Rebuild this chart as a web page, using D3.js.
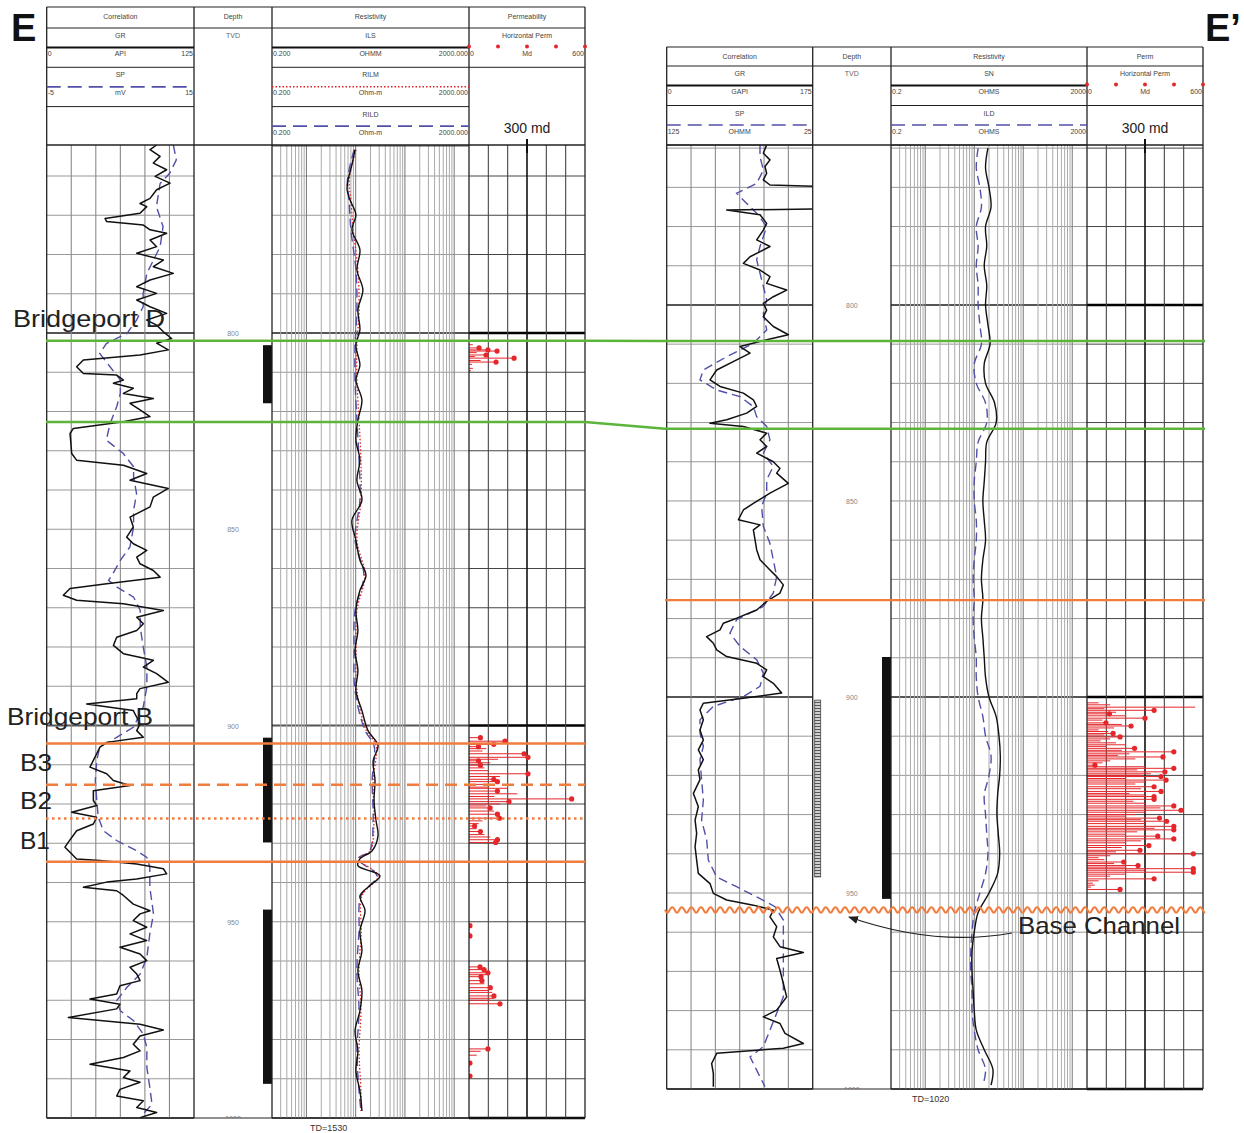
<!DOCTYPE html>
<html>
<head>
<meta charset="utf-8">
<script src="https://cdn.jsdelivr.net/npm/d3@7"></script>
<style>
body { margin: 0; background: #fff; }
text { font-family: "Liberation Sans", Arial, sans-serif; }
</style>
</head>
<body>
<script>
// ---- well E (left) : [depth, value]
const leftGR = [[752.1,93.3],[753.3,87.7],[755.0,96.2],[756.7,90.5],[758.4,101.8],[760.1,92],[761.8,104.7],[763.5,93.3],[765.7,87.7],[767.0,79.2],[767.8,84.9],[769.5,79.2],[770.8,49.5],[771.6,50.9],[772.5,82],[773.7,87.7],[774.6,101.8],[776.3,87.7],[778.0,93.3],[779.7,76.4],[781.4,99],[783.1,90.5],[784.8,107.5],[786.5,87.7],[788.2,76.4],[789.9,93.3],[791.6,76.4],[793.3,87.7],[795.0,101.8],[796.7,84.9],[798.0,93.3],[799.7,99],[801.4,106],[802.6,93.3],[804.3,103.2],[805.6,79.2],[806.9,31.1],[808.6,25.4],[810.3,31.1],[810.7,59.4],[812.0,65.1],[812.8,56.6],[814.1,73.5],[815.4,65.1],[816.7,90.5],[817.9,70.7],[819.6,79.2],[821.3,87.7],[822.6,65.1],[824.3,22.6],[825.6,19.8],[828.0,20.5],[830.7,21.2],[832.4,25.4],[833.7,65.1],[835.8,84.9],[837.5,70.7],[839.6,103.2],[841.8,90.5],[844.3,87.7],[846.9,70.7],[849.4,73.5],[852.0,67.9],[853.7,73.5],[855.4,84.9],[857.1,76.4],[858.8,79.2],[860.5,90.5],[862.2,96.2],[863.9,50.9],[865.1,19.8],[866.8,14.1],[868.1,25.4],[869.0,65.1],[870.7,99],[872.4,76.4],[874.1,82],[875.8,76.4],[877.5,59.4],[879.6,56.6],[881.7,65.1],[883.4,90.5],[885.1,82],[886.8,93.3],[889.0,103.2],[890.6,79.2],[891.9,76.4],[893.2,76.4],[894.5,33.9],[896.2,73.5],[897.9,76.4],[899.6,79.2],[901.3,76.4],[903.0,82],[904.3,50.9],[905.5,45.2],[907.2,42.4],[908.9,39.6],[910.6,36.7],[912.3,50.9],[914.0,56.6],[915.3,70.7],[916.6,39.6],[919.1,39.6],[920.4,42.4],[922.1,21.2],[923.4,42.4],[925.1,39.6],[926.8,25.4],[929.7,18.4],[931.0,15.5],[932.3,19.8],[934.0,25.4],[934.4,45.2],[935.3,76.4],[936.5,99],[937.8,101.8],[939.1,76.4],[939.9,50.9],[941.2,31.1],[942.1,59.4],[943.3,65.1],[945.5,73.5],[947.2,87.7],[948.0,79.2],[949.7,73.5],[951.4,84.9],[953.1,70.7],[954.8,84.9],[956.5,62.2],[958.2,79.2],[959.9,84.9],[961.6,70.7],[963.3,76.4],[965.0,79.2],[966.3,62.2],[968.4,59.4],[969.7,36.7],[971.0,62.2],[972.2,59.4],[974.4,18.4],[976.1,79.2],[977.6,99],[979.1,79.2],[981.2,73.5],[982.9,79.2],[984.6,65.1],[986.3,36.7],[988.0,70.7],[989.7,65.1],[990.9,79.2],[992.7,62.2],[994.4,59.4],[995.6,82],[997.3,76.4],[998.6,93.3],[999.9,79.2]];
const leftSP = [[752.1,12.2],[755.9,12.6],[759.3,11.7],[761.9,10.4],[767.8,9.9],[772.9,10.8],[778.0,10.4],[784.8,8.6],[789.9,8.1],[793.3,8.1],[796.7,7.2],[800.1,5.9],[802.7,3.1],[805.2,2.2],[808.6,3.6],[812.0,5.0],[815.4,5.0],[818.8,4.5],[823.1,3.6],[827.3,3.1],[830.7,5.4],[834.1,6.8],[836.7,6.8],[840.9,7.2],[845.2,6.8],[849.4,6.8],[854.5,6.3],[857.9,5.0],[861.3,4.0],[863.0,3.4],[864.7,4.5],[867.3,6.8],[870.7,7.7],[874.9,7.7],[880.0,8.1],[885.1,8.6],[890.2,8.6],[895.3,8.1],[900.4,6.8],[903.0,4.5],[905.5,2.2],[908.9,1.8],[914.0,1.6],[919.1,1.8],[923.4,2.0],[926.8,2.7],[929.3,4.5],[931.9,7.2],[933.6,8.6],[936.1,9.0],[941.2,9.0],[948.0,9.5],[953.1,9.0],[959.1,8.6],[963.3,7.7],[966.7,5.9],[970.1,4.5],[972.7,5.0],[975.2,6.8],[978.6,8.1],[982.0,8.6],[987.1,8.6],[992.2,9.0],[996.5,9.3],[999.0,8.1]];
const leftILS = [[753.3,9.7],[757.1,8.4],[761.0,7.0],[763.5,6.7],[766.0,7.6],[769.9,10.1],[773.7,8.4],[778.8,12.2],[783.9,10.6],[789.0,14],[794.1,11.1],[799.2,12.2],[803.1,10.1],[808.2,12.2],[812.0,10.1],[817.1,13.4],[822.2,11.1],[827.3,10.1],[832.4,12.2],[837.5,10.6],[842.6,13.4],[847.7,8.4],[852.8,10.1],[857.9,12.2],[861.7,16.2],[865.6,12.2],[870.7,10.1],[875.8,11.1],[880.9,9.7],[886.0,11.1],[891.1,10.1],[896.2,13.4],[901.3,17.8],[905.1,28.4],[909.0,22.6],[914.0,24.7],[919.1,23.6],[924.2,25.9],[928.1,28.4],[931.9,21.6],[934.0,12.2],[935.7,11.1],[938.3,31.2],[940.8,19.3],[943.4,12.2],[947.2,15.5],[952.3,12.2],[957.4,13.4],[962.5,11.1],[967.6,13.4],[972.7,12.2],[977.8,9.7],[982.9,11.1],[988.0,10.1],[993.1,12.2],[998.2,13.4]];
const leftRILM = [[753.3,10.2],[761.0,7.4],[766.0,8.0],[773.7,8.9],[783.9,11.1],[794.1,11.7],[803.1,10.6],[812.0,10.6],[822.2,11.7],[832.4,12.8],[842.6,12.8],[852.8,10.6],[861.7,15.4],[870.7,10.6],[880.9,10.2],[891.1,10.6],[901.3,16.5],[905.1,25.9],[914.0,22.6],[924.2,23.6],[931.9,19.8],[934.0,11.7],[938.3,28.4],[943.4,13.4],[952.3,13.0],[962.5,11.7],[972.7,12.8],[982.9,11.7],[993.1,12.8],[998.2,12.8]];
const leftRILD = [[753.3,9.3],[761.0,6.8],[766.0,7.3],[773.7,8.0],[783.9,10.1],[794.1,10.6],[803.1,9.7],[812.0,9.7],[822.2,10.6],[832.4,11.7],[842.6,12.2],[852.8,9.7],[861.7,14.7],[870.7,9.7],[880.9,9.3],[891.1,9.7],[901.3,15.5],[905.1,23.6],[914.0,21.6],[924.2,22.6],[931.9,19.3],[934.0,11.1],[938.3,26.9],[943.4,12.8],[952.3,11.7],[962.5,10.6],[972.7,11.7],[982.9,10.6],[993.1,11.7],[998.2,12.8]];
const leftPermDots = [[803.8,52],[804.3,98],[804.6,145],[805.6,88],[806.4,233],[807.4,140],[903.1,59],[904.0,186],[904.8,128],[905.4,49],[907.2,285],[908.1,305],[909.0,49],[910.1,59],[912.3,305],[913.7,128],[914.3,147],[916.7,147],[918.7,531],[919.4,207],[921.0,109],[922.6,147],[923.6,157],[925.6,29],[927.0,59],[929.1,147],[929.8,138],[951.0,5],[953.6,5],[961.5,57],[962.2,78],[963.0,98],[964.0,62],[965.0,67],[966.8,110],[968.9,129],[970.9,160],[982.4,98],[986.0,5],[989.3,5]];
const leftPermStems = [[803.0,20],[805.0,40],[806.0,30],[807.0,60],[808.0,15],[809.0,20],[809.6,10],[905.9,90],[906.5,70],[908.6,150],[909.5,110],[910.8,80],[911.5,100],[913.0,160],[915.0,120],[915.7,100],[916.0,200],[917.4,250],[918.1,130],[920.0,160],[920.5,90],[921.8,130],[924.3,70],[925.0,50],[926.3,40],[927.8,80],[928.4,110],[952.0,5],[952.8,5],[963.5,90],[965.8,80],[967.5,100],[968.0,120],[969.5,130],[970.0,110],[983.0,60],[984.0,40],[987.0,5],[988.0,5]];
const leftCoreBars = [[803.1,817.9],[903.1,929.8],[946.9,991.3]];

// ---- well E' (right)
const rightGR = [[759.2,119.8],[761.3,115.8],[763.0,123.8],[764.7,117.8],[766.4,119.8],[768.1,115.8],[769.4,123.8],[769.8,185],[775.5,185],[775.8,71.9],[777.0,111.9],[779.2,119.8],[780.9,115.8],[783.4,107.9],[785.1,123.8],[787.7,99.9],[789.4,91.9],[791.1,111.9],[792.8,123.8],[794.5,119.8],[796.2,143.8],[797.9,127.8],[799.6,115.8],[801.3,119.8],[803.0,115.8],[805.5,127.8],[807.6,145.8],[808.9,119.8],[810.6,87.9],[812.3,99.9],[814.0,83.9],[816.6,59.9],[819.1,51.9],[820.8,63.9],[822.5,91.9],[824.2,103.9],[825.9,107.9],[827.6,95.9],[829.3,71.9],[830.2,51.9],[831.0,91.9],[832.7,119.8],[834.4,111.9],[836.1,119.8],[837.8,107.9],[840.0,127.8],[841.7,135.8],[842.9,131.8],[845.5,145.8],[848.0,123.8],[850.6,103.9],[852.3,91.9],[854.8,85.9],[856.1,111.9],[857.4,103.9],[859.9,105.9],[862.5,107.9],[865.0,111.9],[867.6,123.8],[869.3,131.8],[871.4,139.8],[873.5,135.8],[875.6,119.8],[877.8,107.9],[879.9,83.9],[881.2,67.9],[882.9,63.9],[884.6,47.9],[886.3,55.9],[888.0,59.9],[889.7,71.9],[891.4,107.9],[893.1,119.8],[894.8,115.8],[896.5,127.8],[899.0,137.8],[900.3,91.9],[901.6,43.9],[903.3,39.9],[905.8,43.9],[908.4,39.9],[911.0,43.9],[913.5,37.9],[916.0,43.9],[918.6,37.9],[921.1,39.9],[924.6,32],[928.0,37.9],[931.4,34],[934.8,35.9],[938.2,34],[941.6,35.9],[945.0,37.9],[947.6,51.9],[950.1,55.9],[951.8,71.9],[953.1,103.9],[954.4,127.8],[956.1,123.8],[958.6,131.8],[961.2,127.8],[963.7,135.8],[965.2,163.8],[966.7,131.8],[969.7,135.8],[973.1,139.8],[976.5,143.8],[979.9,131.8],[981.6,115.8],[983.3,135.8],[985.8,141.8],[988.4,163.8],[989.6,139.8],[990.9,59.9],[993.5,53.9],[996.0,55.9],[999.4,55.9]];
const rightSP = [[759.2,61.1],[762.2,61.1],[765.6,58.8],[769.0,63.4],[771.5,77.1],[774.1,70.2],[776.6,63.4],[780.0,56.5],[785.1,61.1],[788.5,63.4],[791.9,61.1],[795.3,58.8],[798.7,56.5],[802.1,58.8],[806.4,56.5],[809.8,65.7],[813.2,83.9],[816.6,99.9],[819.1,102.2],[821.7,90.8],[823.4,74.8],[825.9,65.7],[828.5,63.4],[831.0,56.5],[834.4,54.3],[837.8,58.8],[841.2,52.0],[844.6,56.5],[848.0,56.5],[851.4,60.0],[856.5,58.8],[860.8,54.3],[865.0,52.0],[869.3,49.7],[873.5,52.0],[876.9,58.8],[880.3,77.1],[883.7,81.7],[887.1,74.8],[890.5,63.4],[893.9,58.8],[897.3,61.1],[899.9,72.5],[902.4,93.1],[905.8,102.2],[909.2,102.2],[912.6,99.9],[916.0,102.2],[921.1,101.1],[926.3,99.9],[931.4,101.1],[936.5,97.6],[941.6,96.5],[945.9,90.8],[948.4,77.1],[951.0,63.4],[953.5,50.8],[956.9,45.1],[962.0,45.1],[967.1,45.1],[972.2,45.1],[976.5,45.1],[980.7,49.7],[985.0,54.3],[989.2,58.8],[991.8,67.9],[995.2,63.4],[999.4,57.7]];
const rightSN = [[760,19],[765,17],[770,20],[775,22],[780,17],[785,18],[790,16],[795,18],[800,17],[805,19],[810,21],[815,16],[820,17],[825,26],[830,28],[835,18],[840,17],[845,16],[850,15],[855,16],[860,17],[865,15],[870,14],[875,15],[880,14],[885,15],[890,16],[895,17],[900,20],[905,28],[910,32],[915,34],[920,33],[925,30],[930,29],[935,31],[940,33],[945,30],[950,20],[955,12],[960,10],[965,9],[970,9],[975,9.5],[980,10],[985,11],[990,16],[995,24],[999,22]];
const rightILD = [[760,12],[765,11],[770,13],[775,14],[780,11],[785,12],[790,11],[795,12],[800,12],[805,13],[810,14],[815,10],[820,11],[825,17],[830,18],[835,12],[840,11],[845,10],[850,10],[855,11],[860,11],[865,10],[870,9.5],[875,10],[880,9.5],[885,10],[890,11],[895,11],[900,12],[905,15],[910,17],[915,22],[920,20],[925,16],[930,17],[935,18],[940,19],[945,17],[950,13],[955,10],[960,9],[965,8.5],[970,8.5],[975,9],[980,9],[985,10],[990,12],[995,17],[999,15]];
const rightPermDots = [[903.4,347],[904.3,116],[905.4,300],[906.6,98],[907.4,228],[909.3,135],[910.2,171],[913.1,246],[914.0,449],[915.3,393],[917.4,41],[918.2,449],[919.1,403],[920.3,383],[921.2,409],[922.9,347],[924.1,383],[925.4,347],[926.1,347],[927.8,449],[928.9,486],[930.9,375],[931.7,412],[933.0,449],[933.9,449],[935.5,366],[936.2,449],[937.9,320],[939.1,274],[940.0,550],[942.1,190],[943.0,264],[943.8,550],[944.7,550],[946.4,347],[949.1,171]];
const rightPermStems = [[901.5,60],[902.0,120],[902.6,560],[903.0,90],[903.9,150],[904.8,200],[905.9,80],[907.0,180],[907.9,140],[908.4,60],[908.8,110],[909.7,90],[910.7,120],[911.2,70],[911.7,150],[912.2,200],[912.6,100],[913.6,180],[914.5,220],[914.9,160],[915.8,250],[916.3,120],[916.8,80],[917.8,300],[918.6,260],[919.6,330],[920.0,280],[920.8,200],[921.7,300],[922.2,250],[923.4,280],[924.6,220],[925.0,300],[926.6,240],[927.1,300],[928.3,380],[929.4,300],[930.0,250],[930.4,200],[931.3,280],[932.3,300],[933.5,350],[934.4,260],[935.0,200],[936.7,280],[937.2,200],[938.4,180],[939.5,150],[940.5,120],[941.0,60],[941.5,90],[942.5,140],[943.4,200],[944.2,300],[945.2,200],[945.7,120],[946.9,60],[947.5,30],[948.0,40],[948.5,20]];
const rightCoreBars = [[889.8,951.5]];
const rightSampleBars = [[900.8,945.9]];

const depthLabels = [800, 850, 900, 950, 1000];
const permHeaderDots = [0, 150, 300, 450, 600];

// correlation picks: [left depth, right depth]
const bridgeportD = [802.0, 809.2];
const greenBase = [822.7, 831.6];
const orangeTopLeft = 904.6, orangeTopRight = 875.3;
const b3b2 = 915.1, b2b1 = 923.7, b1Base = 934.7;
const baseChannel = 954.3;

const svg = d3.select("body").append("svg")
	.attr("width", 1244).attr("height", 1133);

const defs = svg.append("defs");
const hatch = defs.append("pattern").attr("id", "hatch")
	.attr("patternUnits", "userSpaceOnUse").attr("width", 6).attr("height", 3);
hatch.append("rect").attr("width", 6).attr("height", 3).attr("fill", "#cfcfcf");
hatch.append("line").attr("x1", 0).attr("x2", 6).attr("y1", 0.5).attr("y2", 0.5)
	.attr("stroke", "#555").attr("stroke-width", 1);
defs.append("marker").attr("id", "arrow")
	.attr("viewBox", "0 0 10 10").attr("refX", 9).attr("refY", 5)
	.attr("markerWidth", 10).attr("markerHeight", 10)
	.attr("markerUnits", "userSpaceOnUse").attr("orient", "auto")
	.append("path").attr("d", "M0,1 L10,5 L0,9 z").attr("fill", "#222");

const wells = [
	{id: "L", cols: [46.7, 194, 272, 469, 585], headTop: 7, titleBot: 28, rowH: 39.3,
	 bodyTop: 145, bodyBot: 1118, depth: [752.1, 1000],
	 titles: ["Correlation", "Depth", "Resistivity", "Permeability"],
	 grDomain: [0, 125], spDomain: [-5, 15], gr: leftGR, sp: leftSP,
	 corrRows: [{name: "GR", style: "solid", lo: "0", unit: "API", hi: "125"},
	            {name: "SP", style: "dash", lo: "-5", unit: "mV", hi: "15"}],
	 resRows: [{name: "ILS", style: "solid", lo: "0.200", unit: "OHMM", hi: "2000.000"},
	           {name: "RILM", style: "dot", lo: "0.200", unit: "Ohm-m", hi: "2000.000"},
	           {name: "RILD", style: "dash", lo: "0.200", unit: "Ohm-m", hi: "2000.000"}],
	 res: [{data: leftRILD, style: "dash"}, {data: leftRILM, style: "dot"}, {data: leftILS, style: "solid"}],
	 permDots: leftPermDots, permStems: leftPermStems, coreBars: leftCoreBars, sampleBars: [],
	 td: "TD=1530", tdX: 310, tdY: 1131},
	{id: "R", cols: [666.7, 812.7, 891, 1087, 1203], headTop: 47, titleBot: 66, rowH: 39.5,
	 bodyTop: 145, bodyBot: 1089, depth: [759.2, 1000],
	 titles: ["Correlation", "Depth", "Resistivity", "Perm"],
	 grDomain: [0, 175], spDomain: [125, 25], gr: rightGR, sp: rightSP,
	 corrRows: [{name: "GR", style: "solid", lo: "0", unit: "GAPI", hi: "175"},
	            {name: "SP", style: "dash", lo: "125", unit: "OHMM", hi: "25"}],
	 resRows: [{name: "SN", style: "solid", lo: "0.2", unit: "OHMS", hi: "2000"},
	           {name: "ILD", style: "dash", lo: "0.2", unit: "OHMS", hi: "2000"}],
	 res: [{data: rightILD, style: "dash"}, {data: rightSN, style: "solid"}],
	 permDots: rightPermDots, permStems: rightPermStems, coreBars: rightCoreBars, sampleBars: rightSampleBars,
	 td: "TD=1020", tdX: 912, tdY: 1102}
];

const styles = {
	solid: {stroke: "#111", width: 1.5, dash: null},
	dash: {stroke: "#5050a8", width: 1.4, dash: "9,5"},
	dot: {stroke: "#d22", width: 1.3, dash: "1.5,2"}
};

function drawHeaderRows(g, x0, x1, rows, w) {
	rows.forEach((r, i) => {
		const top = w.titleBot + i * w.rowH;
		const cx = (x0 + x1) / 2;
		g.append("text").attr("x", cx).attr("y", top + 10).attr("text-anchor", "middle")
			.attr("font-size", 7).attr("fill", "#444").text(r.name);
		const st = styles[r.style];
		g.append("line").attr("x1", x0).attr("x2", x1).attr("y1", top + 19.5).attr("y2", top + 19.5)
			.attr("stroke", st.stroke).attr("stroke-width", r.style === "solid" ? 2.2 : st.width + 0.3)
			.attr("stroke-dasharray", r.style === "dash" ? "14,7" : st.dash);
		g.append("text").attr("x", x0 + 1).attr("y", top + 28).attr("font-size", 7).attr("fill", "#444").text(r.lo);
		g.append("text").attr("x", cx).attr("y", top + 28).attr("text-anchor", "middle").attr("font-size", 7).attr("fill", "#444").text(r.unit);
		g.append("text").attr("x", x1 - 1).attr("y", top + 28).attr("text-anchor", "end").attr("font-size", 7).attr("fill", "#444").text(r.hi);
		g.append("line").attr("x1", x0).attr("x2", x1).attr("y1", top + w.rowH).attr("y2", top + w.rowH)
			.attr("stroke", "#222").attr("stroke-width", 1);
	});
}

function drawWell(w) {
	const [x0, x1, x2, x3, x4] = w.cols;
	const g = svg.append("g");
	const y = d3.scaleLinear().domain(w.depth).range([w.bodyTop, w.bodyBot]);
	const xGR = d3.scaleLinear().domain(w.grDomain).range([x0, x1]);
	const xSP = d3.scaleLinear().domain(w.spDomain).range([x0, x1]);
	const xRes = d3.scaleLog().domain([0.2, 2000]).range([x2, x3]);
	const xPerm = d3.scaleLinear().domain([0, 600]).range([x3, x4]);

	[[x0, x1], [x1, x2], [x2, x3], [x3, x4]].forEach((t, i) => {
		defs.append("clipPath").attr("id", w.id + "clip" + i).append("rect")
			.attr("x", t[0]).attr("y", w.bodyTop).attr("width", t[1] - t[0]).attr("height", w.bodyBot - w.bodyTop);
	});

	// grid
	const grid = g.append("g");
	const hTicks = d3.range(Math.ceil(w.depth[0] / 10) * 10, w.depth[1] + 0.01, 10);
	[[x0, x1, 0], [x2, x3, 1], [x3, x4, 2]].forEach(t => {
		grid.selectAll(null).data(hTicks).join("line")
			.attr("x1", t[0]).attr("x2", t[1]).attr("y1", d => y(d)).attr("y2", d => y(d))
			.attr("stroke", d => d % 100 === 0 ? (t[2] === 2 ? "#000" : "#555") : (t[2] === 2 ? "#444" : "#999"))
			.attr("stroke-width", d => d % 100 === 0 ? (t[2] === 2 ? 2.5 : 2) : 1);
	});
	grid.selectAll(null).data(d3.range(1, 6)).join("line")
		.attr("x1", i => x0 + i * (x1 - x0) / 6).attr("x2", i => x0 + i * (x1 - x0) / 6)
		.attr("y1", w.bodyTop).attr("y2", w.bodyBot).attr("stroke", "#8a8a8a").attr("stroke-width", 1.1);
	grid.selectAll(null).data(xRes.ticks().filter(v => v > 0.2 && v < 2000)).join("line")
		.attr("x1", d => xRes(d)).attr("x2", d => xRes(d))
		.attr("y1", w.bodyTop).attr("y2", w.bodyBot)
		.attr("stroke", d => [1, 10, 100, 1000].includes(d) ? "#777" : "#aaa").attr("stroke-width", 1);
	grid.selectAll(null).data(d3.range(100, 600, 100)).join("line")
		.attr("x1", d => xPerm(d)).attr("x2", d => xPerm(d))
		.attr("y1", w.bodyTop).attr("y2", w.bodyBot)
		.attr("stroke", d => d === 300 ? "#111" : "#444").attr("stroke-width", d => d === 300 ? 1.6 : 1.1);

	// depth track
	const dg = g.append("g").attr("clip-path", `url(#${w.id}clip1)`);
	dg.selectAll(null).data(depthLabels).join("text")
		.attr("x", (x1 + x2) / 2).attr("y", d => y(d) + 3).attr("text-anchor", "middle")
		.attr("font-size", 7).attr("fill", "#888").text(d => d);
	dg.selectAll(null).data(w.coreBars).join("rect")
		.attr("x", x2 - 9).attr("width", 9).attr("y", d => y(d[0])).attr("height", d => y(d[1]) - y(d[0]))
		.attr("fill", "#111");
	dg.selectAll(null).data(w.sampleBars).join("rect")
		.attr("x", x1 + 2).attr("width", 6).attr("y", d => y(d[0])).attr("height", d => y(d[1]) - y(d[0]))
		.attr("fill", "url(#hatch)").attr("stroke", "#444").attr("stroke-width", 0.8);

	// correlation curves
	const cg = g.append("g").attr("clip-path", `url(#${w.id}clip0)`).attr("fill", "none");
	cg.append("path").datum(w.sp)
		.attr("d", d3.line().x(d => xSP(d[1])).y(d => y(d[0])))
		.attr("stroke", styles.dash.stroke).attr("stroke-width", styles.dash.width).attr("stroke-dasharray", styles.dash.dash);
	cg.append("path").datum(w.gr)
		.attr("d", d3.line().x(d => xGR(d[1])).y(d => y(d[0])))
		.attr("stroke", "#111").attr("stroke-width", 1.5).attr("stroke-linejoin", "round");

	// resistivity curves
	const rg = g.append("g").attr("clip-path", `url(#${w.id}clip2)`).attr("fill", "none");
	w.res.forEach(c => {
		const st = styles[c.style];
		rg.append("path").datum(c.data)
			.attr("d", d3.line().x(d => xRes(d[1])).y(d => y(d[0])).curve(d3.curveCatmullRom))
			.attr("stroke", st.stroke).attr("stroke-width", c.style === "solid" ? 1.4 : st.width)
			.attr("stroke-dasharray", st.dash);
	});

	// permeability stems and dots
	const pg = g.append("g").attr("clip-path", `url(#${w.id}clip3)`);
	pg.selectAll(null).data(w.permStems.concat(w.permDots)).join("line")
		.attr("x1", x3).attr("x2", d => xPerm(d[1])).attr("y1", d => y(d[0])).attr("y2", d => y(d[0]))
		.attr("stroke", "#e5262b").attr("stroke-width", 1);
	pg.selectAll(null).data(w.permDots).join("circle")
		.attr("cx", d => xPerm(d[1])).attr("cy", d => y(d[0])).attr("r", 2.6).attr("fill", "#e5262b");

	// header and frame
	const hg = g.append("g");
	[w.headTop, w.titleBot].forEach(v => hg.append("line").attr("x1", x0).attr("x2", x4).attr("y1", v).attr("y2", v)
		.attr("stroke", "#222").attr("stroke-width", 1.2));
	hg.append("line").attr("x1", x0).attr("x2", x4).attr("y1", w.bodyTop).attr("y2", w.bodyTop)
		.attr("stroke", "#222").attr("stroke-width", 1.6);
	hg.append("line").attr("x1", x0).attr("x2", x4).attr("y1", w.bodyBot).attr("y2", w.bodyBot)
		.attr("stroke", "#222").attr("stroke-width", 1.2);
	w.cols.forEach(x => hg.append("line").attr("x1", x).attr("x2", x).attr("y1", w.headTop).attr("y2", w.bodyBot)
		.attr("stroke", "#222").attr("stroke-width", 1.3));
	w.titles.forEach((t, i) => hg.append("text")
		.attr("x", (w.cols[i] + w.cols[i + 1]) / 2).attr("y", w.headTop + 12).attr("text-anchor", "middle")
		.attr("font-size", 7).attr("fill", "#444").text(t));
	drawHeaderRows(hg, x0, x1, w.corrRows, w);
	drawHeaderRows(hg, x2, x3, w.resRows, w);
	hg.append("text").attr("x", (x1 + x2) / 2).attr("y", w.titleBot + 10).attr("text-anchor", "middle")
		.attr("font-size", 7).attr("fill", "#666").text("TVD");
	// perm header
	hg.append("text").attr("x", (x3 + x4) / 2).attr("y", w.titleBot + 10).attr("text-anchor", "middle")
		.attr("font-size", 7).attr("fill", "#444").text("Horizontal Perm");
	hg.selectAll(null).data(permHeaderDots).join("circle")
		.attr("cx", d => xPerm(d)).attr("cy", w.titleBot + 18.5).attr("r", 2).attr("fill", "#e5262b");
	hg.append("text").attr("x", x3 + 1).attr("y", w.titleBot + 28).attr("font-size", 7).attr("fill", "#444").text("0");
	hg.append("text").attr("x", (x3 + x4) / 2).attr("y", w.titleBot + 28).attr("text-anchor", "middle").attr("font-size", 7).attr("fill", "#444").text("Md");
	hg.append("text").attr("x", x4 - 1).attr("y", w.titleBot + 28).attr("text-anchor", "end").attr("font-size", 7).attr("fill", "#444").text("600");
	hg.append("line").attr("x1", x3).attr("x2", x4).attr("y1", w.titleBot + w.rowH).attr("y2", w.titleBot + w.rowH)
		.attr("stroke", "#222").attr("stroke-width", 1);
	hg.append("text").attr("x", xPerm(300)).attr("y", w.bodyTop - 12).attr("text-anchor", "middle")
		.attr("font-size", 14).attr("fill", "#222").text("300 md");
	hg.append("line").attr("x1", xPerm(300)).attr("x2", xPerm(300)).attr("y1", w.bodyTop - 6).attr("y2", w.bodyTop + 8)
		.attr("stroke", "#111").attr("stroke-width", 2);

	svg.append("text").attr("x", w.tdX).attr("y", w.tdY).attr("font-size", 9).attr("fill", "#333").text(w.td);
	return y;
}

const yL = drawWell(wells[0]);
const yR = drawWell(wells[1]);

// correlation lines
const xs = {l0: 46, l1: 585, r0: 665, r1: 1205};
const ov = svg.append("g").attr("fill", "none");
[bridgeportD, greenBase].forEach(p => {
	ov.append("path")
		.attr("d", d3.line()([[xs.l0, yL(p[0])], [xs.l1, yL(p[0])], [xs.r0, yR(p[1])], [xs.r1, yR(p[1])]]))
		.attr("stroke", "#5cb43a").attr("stroke-width", 2.5);
});
const orange = "#f07d3e";
[[orangeTopLeft, null], [b3b2, "12,7"], [b2b1, "2.5,3.5"], [b1Base, null]].forEach(p => {
	ov.append("line").attr("x1", xs.l0).attr("x2", xs.l1).attr("y1", yL(p[0])).attr("y2", yL(p[0]))
		.attr("stroke", orange).attr("stroke-width", 2.4).attr("stroke-dasharray", p[1]);
});
ov.append("line").attr("x1", xs.r0).attr("x2", xs.r1).attr("y1", yR(orangeTopRight)).attr("y2", yR(orangeTopRight))
	.attr("stroke", orange).attr("stroke-width", 2.4);
const yw = yR(baseChannel);
ov.append("path")
	.attr("d", d3.line().curve(d3.curveBasis)(d3.range(xs.r0, xs.r1 + 0.1, 1.2).map(x => [x, yw + 3 * Math.sin((x - xs.r0) / 9.6 * 2 * Math.PI)])))
	.attr("stroke", orange).attr("stroke-width", 2);

// arrow and labels
ov.append("path").attr("d", "M1012,933 Q935,947 849,917")
	.attr("stroke", "#222").attr("stroke-width", 1.2).attr("marker-end", "url(#arrow)");

const labels = [
	{t: "Bridgeport D", x: 13, y: 327, w: 152},
	{t: "Bridgeport B", x: 7, y: 725, w: 146},
	{t: "B3", x: 20, y: 771, w: 32},
	{t: "B2", x: 20, y: 809, w: 32},
	{t: "B1", x: 20, y: 849, w: 30},
	{t: "Base Channel", x: 1018, y: 934, w: 162}
];
svg.selectAll(null).data(labels).join("text")
	.attr("x", d => d.x).attr("y", d => d.y).attr("font-size", 24).attr("fill", "#222")
	.attr("textLength", d => d.w).attr("lengthAdjust", "spacingAndGlyphs").text(d => d.t);
svg.append("text").attr("x", 11).attr("y", 41).attr("font-size", 38).attr("font-weight", "bold").attr("fill", "#111").text("E");
svg.append("text").attr("x", 1205).attr("y", 41).attr("font-size", 38).attr("font-weight", "bold").attr("fill", "#111").text("E’");
</script>
</body>
</html>
